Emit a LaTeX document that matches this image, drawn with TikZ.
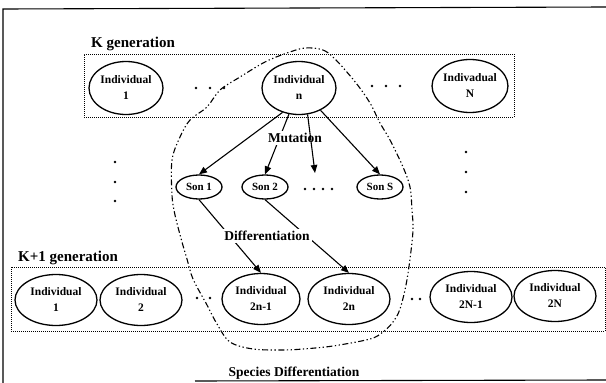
\documentclass[tikz,border=0pt]{standalone}
\usepackage{fontspec}
\setmainfont{Liberation Serif}
\usetikzlibrary{shapes.geometric,arrows.meta}
\begin{document}
\begin{tikzpicture}[x=1pt,y=-1pt,
  indiv/.style={ellipse,draw,line width=1.3pt,minimum width=74pt,minimum height=53pt,inner sep=0pt,align=center,font=\bfseries\fontsize{11.5}{16}\selectfont},
  indivb/.style={indiv,minimum width=82pt,minimum height=51pt},
  son/.style={ellipse,draw,line width=1.3pt,minimum width=46pt,minimum height=24pt,inner sep=0pt,font=\bfseries\fontsize{11}{13}\selectfont},
  genbox/.style={draw,line width=1pt,dash pattern=on 1pt off 1pt,inner sep=0pt},
  heading/.style={font=\bfseries\fontsize{15}{18}\selectfont,inner sep=0pt,anchor=west},
  lab/.style={font=\bfseries\fontsize{13.5}{16}\selectfont,fill=white,inner sep=2pt},
  arr/.style={line width=1.1pt,-{Triangle[length=8pt,width=6.5pt]}},
  region/.style={line width=1.1pt,dash pattern=on 6pt off 2.5pt on 1.3pt off 2.5pt on 1.3pt off 2.5pt}
]
\useasboundingbox (0,0) rectangle (606,383);
% frame
\draw[line width=1.1pt] (606,7) -- (3,9) -- (3,383);
\draw[line width=1.1pt] (195,381) -- (606,380);

% generation boxes
\node[genbox,minimum width=430pt,minimum height=63pt] (kbox) at (299,85.5) {};
\node[genbox,minimum width=594pt,minimum height=64pt] (kkbox) at (308,299) {};
\node[heading] (klab) at (91,44) {K generation};
\node[heading] (kklab) at (18,258) {K+1 generation};

% K generation individuals
\node[indiv] (ind1) at (126,88) {Individual\\1};
\node[indiv] (indn) at (299,88) {Individual\\n};
\node[indiv] (indN) at (470,86) {Indivadual\\N};

% sons
\node[son] (s1) at (199,187) {Son 1};
\node[son] (s2) at (265,187) {Son 2};
\node[son] (sS) at (380,187) {Son S};
\coordinate (mid) at (315,173);

% K+1 generation individuals
\node[indivb] (a1) at (56,300) {Individual\\1};
\node[indivb] (a2) at (141,300) {Individual\\2};
\node[indivb,minimum width=78pt] (a2n1) at (261,299) {Individual\\2n-1};
\node[indivb] (a2n) at (349,299) {Individual\\2n};
\node[indivb] (a2N1) at (471,297) {Individual\\2N-1};
\node[indivb] (a2N) at (555,296) {Individual\\2N};

% mutation arrows
\draw[arr] (indn.236) -- (s1.north);
\draw[arr] (indn.249) -- (s2.north);
\draw[arr] (indn.314) -- (sS.north);
\node[lab] (mut) at (295,138) {Mutation};
\draw[arr] (indn.288) -- (mid);

% differentiation arrows
\draw[arr] (s1.south) -- (a2n1.north);
\draw[arr] (s2.south) -- (a2n.north);
\node[lab] (diff) at (267,236) {Differentiation};

% species differentiation region
\draw[region] plot[smooth cycle,tension=0.55] coordinates {
 (305,48) (323,50) (336,60) (356,83) (370,103) (380,123) (390,140) (403,167)
 (410,187) (412,210) (413,230) (410,259) (406,285) (400,309) (393,322) (383,332)
 (370,339) (333,346) (303,349) (283,350) (253,349) (230,342) (217,324) (207,305)
 (193,279) (187,259) (182,242) (175,215) (172,195) (172,160) (180,137) (190,120)
 (207,107) (220,90) (240,77) (265,62) (287,53)};
\node[font=\bfseries\fontsize{13.5}{16}\selectfont,inner sep=0pt] (spec) at (294,373) {Species Differentiation};

% ellipsis dots
\foreach \x/\y in {196/88,210/88,224/88,372/86,386/86,400/86,
  115/162,115/182,115/201,466/152,466/172,466/192,
  305/189,314/189,323/189,332/189,
  197/298,210/298,412/299,420/299}
  \fill (\x,\y) circle (1.3pt);
\end{tikzpicture}
\end{document}
